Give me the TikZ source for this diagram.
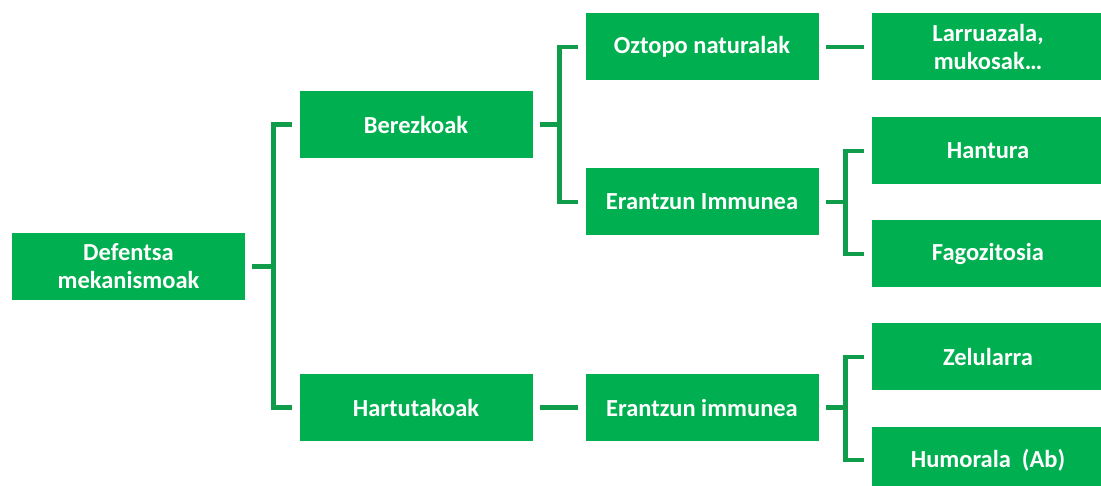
\documentclass[tikz,border=0pt]{standalone}
\usepackage{fontspec}
\setmainfont{Carlito}
\definecolor{boxgreen}{HTML}{00B050}
\definecolor{linegreen}{HTML}{0F9D4B}
\begin{document}
\begin{tikzpicture}[x=1pt,y=-1pt,
  box/.style={fill=boxgreen,draw=none,minimum width=233pt,minimum height=67pt,inner sep=0pt,
    text=white,font=\bfseries\fontsize{24.5}{28}\selectfont,align=center},
  conn/.style={draw=linegreen,line width=4.5pt,line join=miter}]
\useasboundingbox (0,0) rectangle (1101,486);
\clip (0,0) rectangle (1101,486);
\node[box] (def) at (128.5,266.5) {Defentsa\\mekanismoak};
\node[box] (ber) at (416,124.5) {Berezkoak};
\node[box] (har) at (416,407.5) {Hartutakoak};
\node[box] (ozt) at (702,47) {Oztopo naturalak};
\node[box] (erI) at (702,202) {Erantzun Immunea};
\node[box] (eri) at (702,407.5) {Erantzun immunea};
\node[box] (lar) at (988,47) {Larruazala,\\mukosak\dots};
\node[box] (han) at (988,151) {Hantura};
\node[box] (fag) at (988,254) {Fagozitosia};
\node[box] (zel) at (988,357) {Zelularra};
\node[box] (hum) at (988,460) {Humorala\ \ (Ab)};
% brackets
\draw[conn] ([xshift=7pt]def.east) -| ([xshift=-26pt]ber.west) -- ([xshift=-7pt]ber.west);
\draw[conn] ([xshift=7pt]def.east) -| ([xshift=-26pt]har.west) -- ([xshift=-7pt]har.west);
\draw[conn] ([xshift=7pt]ber.east) -| ([xshift=-26pt]ozt.west) -- ([xshift=-7pt]ozt.west);
\draw[conn] ([xshift=7pt]ber.east) -| ([xshift=-26pt]erI.west) -- ([xshift=-7pt]erI.west);
\draw[conn] ([xshift=7pt]ozt.east) -- ([xshift=-7pt]lar.west);
\draw[conn] ([xshift=7pt]erI.east) -| ([xshift=-26pt]han.west) -- ([xshift=-7pt]han.west);
\draw[conn] ([xshift=7pt]erI.east) -| ([xshift=-26pt]fag.west) -- ([xshift=-7pt]fag.west);
\draw[conn] ([xshift=7pt]har.east) -- ([xshift=-7pt]eri.west);
\draw[conn] ([xshift=7pt]eri.east) -| ([xshift=-26pt]zel.west) -- ([xshift=-7pt]zel.west);
\draw[conn] ([xshift=7pt]eri.east) -| ([xshift=-26pt]hum.west) -- ([xshift=-7pt]hum.west);
\end{tikzpicture}
\end{document}
